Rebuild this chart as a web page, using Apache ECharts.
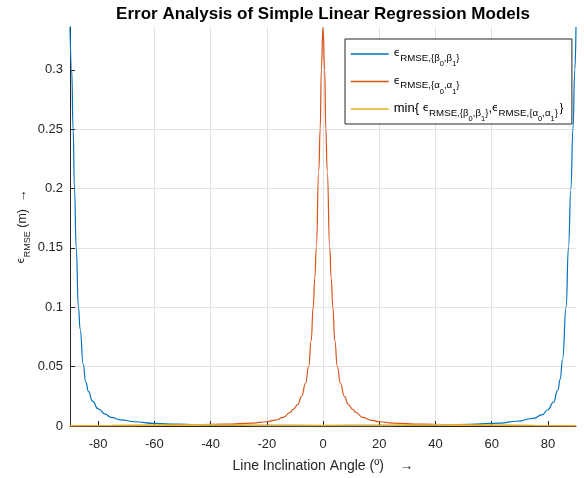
<!DOCTYPE html>
<html><head><meta charset="utf-8">
<script src="https://cdn.jsdelivr.net/npm/echarts@6/dist/echarts.min.js"></script>
<style>html,body{margin:0;padding:0;background:#fff}#c{width:584px;height:478px}</style>
</head><body><div id="c"></div>
<script>
const chartTitle = 'Error Analysis of Simple Linear Regression Models';
const xName = 'Line Inclination Angle (º)    →';
const xTicks = [-80, -60, -40, -20, 0, 20, 40, 60, 80];
const yTicks = [0, 0.05, 0.1, 0.15, 0.2, 0.25, 0.3];
const seriesNames = ['beta', 'alpha', 'min'];

// epsilon RMSE {beta0, beta1}
const angleBeta = [-90, -89.4, -88.9, -88.4, -87.8, -87.0, -86.4, -85.3, -84.4, -83.4, -82.0, -80.0, -77.5, -75.4, -72, -67, -60, -52, -45, -35, -20, 0,
  20, 35, 45, 52, 63, 69, 74.9, 78, 80, 82, 83.5, 84.4, 85.2, 86.5, 87.3, 88.2, 88.9, 89.6, 90];
const rmseBeta = [0.336, 0.300, 0.250, 0.200, 0.150, 0.100, 0.0815, 0.052, 0.037, 0.029, 0.021, 0.0145, 0.0100, 0.0073, 0.0052, 0.0036, 0.0022, 0.0015, 0.0011, 0.0008, 0.0005, 0.0004,
  0.0005, 0.0008, 0.0011, 0.0014, 0.0025, 0.0040, 0.0065, 0.0095, 0.0137, 0.020, 0.030, 0.0395, 0.056, 0.100, 0.150, 0.200, 0.250, 0.300, 0.336];

// epsilon RMSE {alpha0, alpha1}
const angleAlpha = [-90, -75, -60, -45, -35, -25, -20, -17, -14.1, -11.8, -10.6, -9, -7.6, -6.2, -5.1, -4.2, -3.5, -2.9, -2.4, -1.5, -1.0, -0.6, 0,
  0.6, 1.0, 1.5, 2.4, 2.9, 3.5, 4.2, 5.1, 6.2, 7.6, 9, 10.6, 11.8, 14.1, 17, 20, 25, 35, 45, 60, 75, 90];
const rmseAlpha = [0.0003, 0.0004, 0.0006, 0.0011, 0.0016, 0.0025, 0.0036, 0.0050, 0.0073, 0.0112, 0.0140, 0.018, 0.025, 0.036, 0.050, 0.072, 0.100, 0.125, 0.150, 0.215, 0.250, 0.300, 0.336,
  0.300, 0.250, 0.215, 0.150, 0.125, 0.100, 0.072, 0.050, 0.036, 0.025, 0.018, 0.0140, 0.0112, 0.0073, 0.0050, 0.0036, 0.0025, 0.0016, 0.0011, 0.0006, 0.0004, 0.0003];

// min of the two
const angleMin = [-90, -75, -60, -45, -35, -20, 0, 20, 35, 45, 60, 75, 90];
const rmseMin = [0.0003, 0.0004, 0.0006, 0.0011, 0.0008, 0.0005, 0.0004, 0.0005, 0.0008, 0.0011, 0.0006, 0.0004, 0.0003];

const FONT = 'Liberation Sans, Arial, Helvetica, sans-serif';
const AX = '#262626';

function pairs(xs, ys) { return xs.map((x, i) => [x, ys[i]]); }

const legendLabels = {
  beta: '{e|ϵ}RMSE,{β{z|0},β{z|1}}',
  alpha: '{e|ϵ}RMSE,{α{z|0},α{z|1}}',
  min: '{m|min\{ }{e|ϵ}RMSE,{β{z|0},β{z|1}}{m|,}{e|ϵ}RMSE,{α{z|0},α{z|1}}{b|｝}'
};

const chart = echarts.init(document.getElementById('c'), null, { renderer: 'canvas' });
chart.setOption({
  animation: false,
  backgroundColor: '#fff',
  title: {
    text: chartTitle, left: 318, top: 1, textAlign: 'center',
    textStyle: { fontFamily: FONT, fontSize: 17, fontWeight: 'bold', color: '#000' }
  },
  grid: { left: 70, right: 8, top: 27, bottom: 51, containLabel: false },
  legend: {
    orient: 'vertical', left: 345, top: 39, align: 'left',
    backgroundColor: '#fff', borderColor: AX, borderWidth: 1, borderRadius: 0,
    padding: [0, 1, 0, 5], itemGap: -2.5, itemWidth: 38, itemHeight: 2,
    itemStyle: { opacity: 0 },
    lineStyle: { width: 1.5 },
    data: seriesNames,
    formatter: (name) => legendLabels[name],
    textStyle: {
      fontFamily: FONT, fontSize: 9.7, lineHeight: 22, color: '#000', padding: [8, 0, 0, 0],
      rich: {
        m: { fontFamily: FONT, fontSize: 13, verticalAlign: 'top', color: '#000' },
        e: { fontFamily: 'DejaVu Sans', fontSize: 10.5, verticalAlign: 'top', padding: [1, 0, 0, 0], color: '#000' },
        z: { fontFamily: FONT, fontSize: 7.5, verticalAlign: 'top', padding: [13, 0, 0, 0], color: '#000' },
        b: { fontFamily: FONT, fontSize: 13, verticalAlign: 'top', width: 5, color: '#000' }
      }
    }
  },
  xAxis: {
    type: 'value', min: -90, max: 90,
    name: xName, nameLocation: 'middle', nameGap: 33, nameMoveOverlap: false,
    nameTextStyle: { fontFamily: FONT, fontSize: 14, color: AX },
    axisLine: { show: true, onZero: false, lineStyle: { color: AX, width: 1 } },
    axisTick: { show: true, inside: true, length: 5, customValues: xTicks, lineStyle: { color: AX } },
    axisLabel: { customValues: xTicks, fontFamily: FONT, fontSize: 13, color: AX, margin: 12 },
    splitLine: { show: true, showMinLine: false, showMaxLine: false, lineStyle: { color: '#e2e2e2', width: 1 } }
  },
  yAxis: {
    type: 'value', min: 0, max: 0.336, interval: 0.05,
    name: '{e|ϵ}{s|RMSE}{m| (m)  →}', nameLocation: 'middle', nameGap: 37, nameMoveOverlap: false,
    nameTextStyle: {
      fontFamily: FONT, fontSize: 12, lineHeight: 20, color: AX,
      rich: {
        e: { fontFamily: 'DejaVu Sans', fontSize: 10, verticalAlign: 'top', padding: [3, 0, 0, 0], color: AX },
        s: { fontFamily: FONT, fontSize: 9, verticalAlign: 'top', padding: [10, 0, 0, 0], color: AX },
        m: { fontFamily: FONT, fontSize: 12.5, verticalAlign: 'middle', color: AX }
      }
    },
    axisLine: { show: true, onZero: false, lineStyle: { color: AX, width: 1 } },
    axisTick: { show: true, inside: true, length: 5, customValues: yTicks, lineStyle: { color: AX } },
    axisLabel: { customValues: yTicks, fontFamily: FONT, fontSize: 13, color: AX, margin: 7 },
    splitLine: { show: true, showMinLine: false, showMaxLine: false, lineStyle: { color: '#e2e2e2', width: 1 } }
  },
  series: [
    { name: 'beta', type: 'line', data: pairs(angleBeta, rmseBeta), symbol: 'none', showSymbol: false,
      smooth: 0.5, smoothMonotone: 'x', color: '#0072BD', lineStyle: { width: 1.2, color: '#0072BD' } },
    { name: 'alpha', type: 'line', data: pairs(angleAlpha, rmseAlpha), symbol: 'none', showSymbol: false,
      smooth: 0.5, smoothMonotone: 'x', color: '#D95319', lineStyle: { width: 1.2, color: '#D95319' } },
    { name: 'min', type: 'line', data: pairs(angleMin, rmseMin), symbol: 'none', showSymbol: false,
      smooth: 0.5, smoothMonotone: 'x', color: '#EDB120', lineStyle: { width: 1.5, color: '#EDB120' } }
  ]
});
</script>
</body></html>
